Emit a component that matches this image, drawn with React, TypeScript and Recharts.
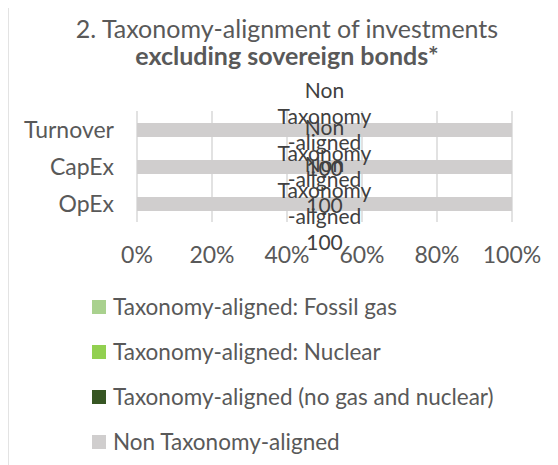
import React from 'react';
import { BarChart, Bar, XAxis, YAxis, CartesianGrid, Legend } from 'recharts';

const categories = ['Turnover', 'CapEx', 'OpEx'];
const fossilGas = [0, 0, 0];
const nuclear = [0, 0, 0];
const alignedOther = [0, 0, 0];
const nonAligned = [100, 100, 100];
const xTicks = [0, 20, 40, 60, 80, 100];
const seriesKeys = ['gas', 'nuclear', 'other', 'non'];
const seriesNames = [
  'Taxonomy-aligned: Fossil gas',
  'Taxonomy-aligned: Nuclear',
  'Taxonomy-aligned (no gas and nuclear)',
  'Non Taxonomy-aligned',
];
const seriesColors = ['#A9D18E', '#92D050', '#375623', '#D0CECE'];
const labelLines = ['Non', 'Taxonomy', '-aligned'];
const titleLine1 = '2. Taxonomy-alignment of investments';
const titleLine2 = 'excluding sovereign bonds*';

const data = categories.map((c, i) => ({
  name: c,
  gas: fossilGas[i],
  nuclear: nuclear[i],
  other: alignedOther[i],
  non: nonAligned[i],
}));

const FONT = 'Lato, sans-serif';
const TEXT = '#595959';

const renderNonLabel = (props: any) => {
  const { x, y, width, height, value } = props;
  const cx = x + width / 2;
  const cy = y + height / 2;
  const lines = [...labelLines, String(value)];
  const lh = 26;
  return (
    <text x={cx} y={cy} textAnchor="middle" fill="#404040" fontFamily={FONT} fontSize={21}>
      {lines.map((l, i) => (
        <tspan key={i} x={cx} y={cy + (i - 1.5) * lh + 7}>
          {l}
        </tspan>
      ))}
    </text>
  );
};

const renderLegend = (props: any) => {
  const payload = [...(props.payload || [])].sort(
    (a: any, b: any) => seriesNames.indexOf(a.value) - seriesNames.indexOf(b.value)
  );
  return (
    <div style={{ fontFamily: FONT }}>
      {payload.map((p: any, i: number) => (
        <div key={i} style={{ display: 'flex', alignItems: 'center', height: 45 }}>
          <span style={{ width: 14, height: 14, background: p.color, marginRight: 7, flex: 'none' }} />
          <span style={{ fontSize: 22.5, color: TEXT, lineHeight: '23px', whiteSpace: 'nowrap' }}>{p.value}</span>
        </div>
      ))}
    </div>
  );
};

export default function App() {
  return (
    <div style={{ position: 'relative', width: 542, height: 457 }}>
      <div style={{ position: 'absolute', left: -1, top: -8, width: 2, height: 465, background: '#E3E3E3' }} />
      <div
        style={{
          position: 'absolute',
          left: 0,
          top: 5,
          width: 558,
          textAlign: 'center',
          fontFamily: FONT,
          fontSize: 25,
          lineHeight: '30px',
          color: TEXT,
          whiteSpace: 'nowrap',
          zIndex: 2,
        }}
      >
        <div>{titleLine1}</div>
        <div style={{ fontWeight: 700, marginTop: -3 }}>{titleLine2}</div>
      </div>
      <BarChart
        width={542}
        height={457}
        data={data}
        layout="vertical"
        margin={{ top: 103, right: 38, bottom: 213, left: 0 }}
        barSize={14}
      >
        <CartesianGrid horizontal={false} stroke="#D9D9D9" strokeWidth={1.5} />
        <XAxis
          type="number"
          domain={[0, 100]}
          ticks={xTicks}
          tickFormatter={(v: number) => `${v}%`}
          axisLine={false}
          tickLine={false}
          tickSize={0}
          tickMargin={25}
          height={30}
          interval={0}
          tick={{ fill: TEXT, fontSize: 23, fontFamily: FONT }}
        />
        <YAxis
          type="category"
          dataKey="name"
          width={129}
          axisLine={false}
          tickLine={false}
          tickSize={0}
          tickMargin={23}
          tick={{ fill: TEXT, fontSize: 23, fontFamily: FONT }}
        />
        {seriesKeys.map((k, i) => (
          <Bar
            key={k}
            dataKey={k}
            name={seriesNames[i]}
            stackId="a"
            fill={seriesColors[i]}
            isAnimationActive={false}
            label={k === 'non' ? renderNonLabel : undefined}
          />
        ))}
        <Legend
          layout="vertical"
          align="center"
          verticalAlign="middle"
          itemSorter={null}
          content={renderLegend}
          wrapperStyle={{ top: 276, left: 84, width: 440 }}
        />
      </BarChart>
    </div>
  );
}
